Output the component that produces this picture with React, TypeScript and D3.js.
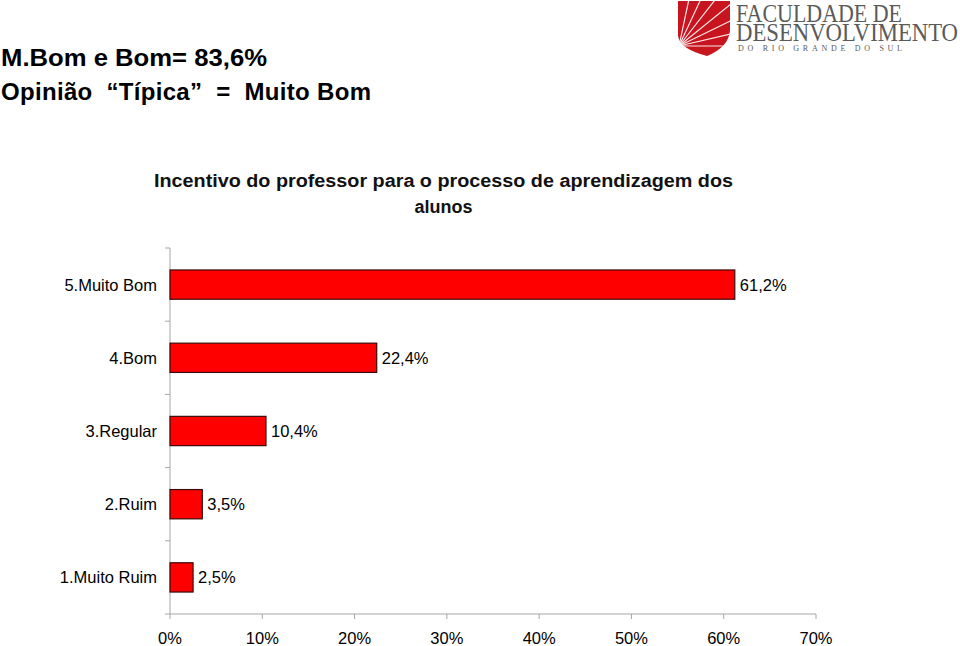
import React from "react";
import * as d3 from "d3";

const categories = ["5.Muito Bom", "4.Bom", "3.Regular", "2.Ruim", "1.Muito Ruim"];
const values = [61.2, 22.4, 10.4, 3.5, 2.5];
const valueLabels = ["61,2%", "22,4%", "10,4%", "3,5%", "2,5%"];
const xTicks = [0, 10, 20, 30, 40, 50, 60, 70];
const headline = ["M.Bom e Bom= 83,6%", "Opinião  \u201CTípica\u201D  =  Muito Bom"];
const chartTitle = ["Incentivo do professor para o processo de aprendizagem dos", "alunos"];
const logoLines = ["FACULDADE DE", "DESENVOLVIMENTO", "DO RIO GRANDE DO SUL"];

const W = 960, H = 646;
const left = 170, right = 816, top = 248, bottom = 614;

export default function App() {
  const x = d3.scaleLinear().domain([0, 70]).range([left, right]);
  const y = d3.scaleBand<string>().domain(categories).range([top, bottom]).paddingInner(0.6).paddingOuter(0.3);
  const bandStep = (bottom - top) / categories.length;
  const axisColor = "#a6a6a6";
  const font = "Liberation Sans, Arial, Helvetica, sans-serif";
  const serif = "Liberation Serif, DejaVu Serif, serif";
  const rays = d3.range(7);
  const shield = "M678,1 L730,1 L730,30 Q729,47 707,56 Q680,49 678,36 Z";
  return (
    <svg width={W} height={H} style={{ position: "absolute", left: 0, top: 0, background: "#fff" }} fontFamily={font}>
      <defs>
        <clipPath id="shieldClip"><path d={shield} /></clipPath>
      </defs>
      {/* headline */}
      <text x={1} y={66} fontSize={24} fontWeight="bold" fill="#000" textLength={266} lengthAdjust="spacingAndGlyphs">{headline[0]}</text>
      <text x={1} y={100} fontSize={24} fontWeight="bold" fill="#000" textLength={370} lengthAdjust="spacing" style={{ whiteSpace: "pre" }}>{headline[1]}</text>

      {/* logo */}
      <g>
        <path d={shield} fill="#c8171e" />
        <g clipPath="url(#shieldClip)">
          {rays.map((i) => {
            const a = (-78 + i * 13) * Math.PI / 180;
            return <line key={i} x1={679} y1={46} x2={679 + 80 * Math.cos(a)} y2={46 + 80 * Math.sin(a)} stroke="#fff" strokeWidth={1.2} opacity={0.9} />;
          })}
        </g>
        <text x={736} y={22} fontSize={25} fontFamily={serif} fill="#5a5a5a" textLength={166} lengthAdjust="spacingAndGlyphs">{logoLines[0]}</text>
        <text x={736} y={41} fontSize={25} fontFamily={serif} fill="#5a5a5a" textLength={222} lengthAdjust="spacingAndGlyphs">{logoLines[1]}</text>
        <text x={738} y={51} fontSize={8} fontFamily={serif} fill="#5a5a5a" textLength={164} lengthAdjust="spacing">{logoLines[2]}</text>
      </g>

      {/* chart title */}
      <text x={443.5} y={187} textAnchor="middle" fontSize={18} fontWeight="bold" fill="#111" textLength={579} lengthAdjust="spacingAndGlyphs">{chartTitle[0]}</text>
      <text x={443.5} y={213} textAnchor="middle" fontSize={18} fontWeight="bold" fill="#111">{chartTitle[1]}</text>

      {/* y axis */}
      <line x1={left} x2={left} y1={top} y2={bottom} stroke={axisColor} strokeWidth={1} />
      {d3.range(categories.length + 1).map((i) => (
        <line key={i} x1={left - 5} x2={left} y1={top + i * bandStep} y2={top + i * bandStep} stroke={axisColor} />
      ))}
      {/* x axis */}
      <line x1={left} x2={right} y1={bottom} y2={bottom} stroke={axisColor} strokeWidth={1} />
      {xTicks.map((t) => (
        <g key={t}>
          <line x1={x(t)} x2={x(t)} y1={bottom} y2={bottom + 5} stroke={axisColor} />
          <text x={x(t)} y={644} textAnchor="middle" fontSize={16.5} fill="#000">{t}%</text>
        </g>
      ))}

      {/* bars */}
      {categories.map((c, i) => (
        <g key={c}>
          <rect x={x(0)} y={y(c)} width={x(values[i]) - x(0)} height={y.bandwidth()} fill="#ff0000" stroke="#3a0a0a" strokeWidth={1.2} />
          <text x={left - 13} y={(y(c) as number) + y.bandwidth() / 2 + 6} textAnchor="end" fontSize={16.5} fill="#000">{c}</text>
          <text x={x(values[i]) + 5} y={(y(c) as number) + y.bandwidth() / 2 + 6} fontSize={16.5} fill="#000">{valueLabels[i]}</text>
        </g>
      ))}
    </svg>
  );
}
